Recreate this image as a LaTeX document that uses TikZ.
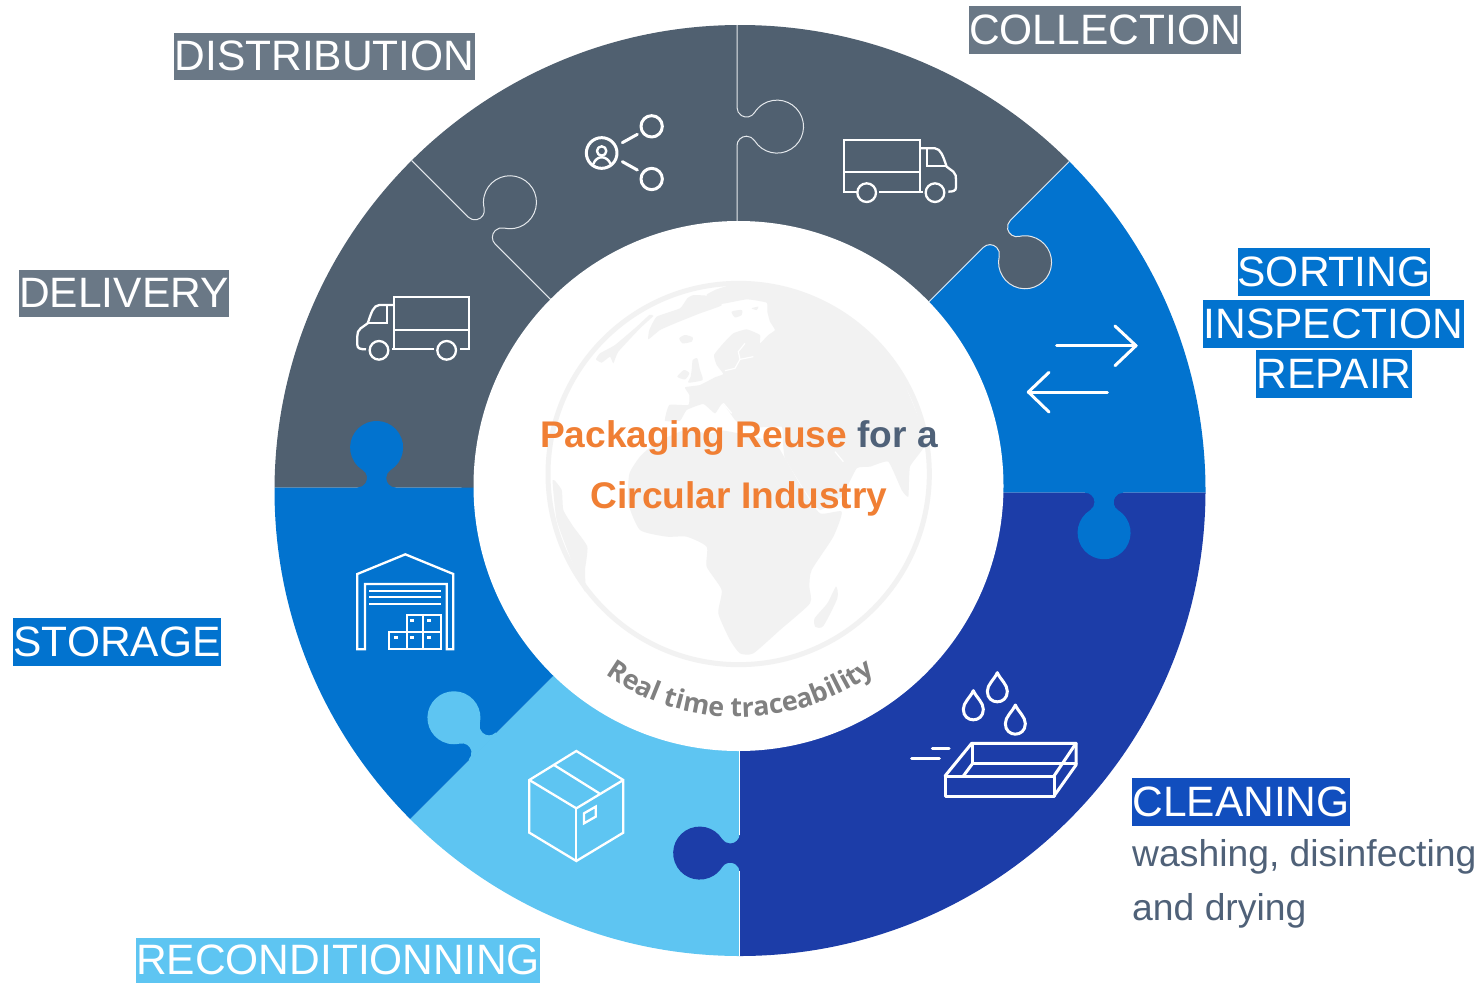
\documentclass[tikz,border=0pt]{standalone}
\usepackage{fontspec}
\setmainfont{Liberation Sans}
\newfontfamily\arcfont{Open Sans}
\usetikzlibrary{decorations.text}
\definecolor{greyseg}{HTML}{506070}
\definecolor{greylab}{HTML}{6A7886}
\definecolor{bluemid}{HTML}{0273CF}
\definecolor{bluedark}{HTML}{1C3DA8}
\definecolor{bluelab}{HTML}{114EBE}
\definecolor{bluelight}{HTML}{5EC5F2}
\definecolor{orangetxt}{HTML}{F07F34}
\definecolor{slatetxt}{HTML}{4F6178}
\definecolor{landgrey}{HTML}{F2F2F2}
\definecolor{tracegrey}{HTML}{808080}
\definecolor{seamw}{HTML}{E4E8EC}
\newcommand{\tabfill}[4]{\fill[#4,shift={(#1,#2)},x=1pt,y=1pt,rotate=#3] (19,0) arc (-90:-238:9.5) arc (-58:238:26.5) arc (58:-90:9.5) -- (-19,-1.5) -- (19,-1.5) -- cycle;}
\newcommand{\tabseam}[5]{\draw[seamline,shift={(#1,#2)},x=1pt,y=1pt,rotate=#3] (#4,0) -- (19,0) arc (-90:-238:9.5) arc (-58:238:26.5) arc (58:-90:9.5) -- (-#5,0);}
\tikzset{
  seamline/.style={draw=seamw,line width=1pt},
  zf/.style 2 args={shift={(#1,#2)},x=0.33333pt,y=-0.33333pt},
  icon/.style={draw=white,line width=2.3pt,line join=miter},
  iconr/.style={draw=white,line width=3pt,line cap=round,line join=round},
  lab/.style={font=\fontsize{42.5}{42.5}\selectfont,text=white,inner sep=0pt,text height=30.4pt,text depth=2pt,align=center},
  body/.style={font=\fontsize{37.3}{37.3}\selectfont,text=slatetxt,inner sep=0pt,anchor=base west},
  ctr/.style={font=\fontsize{37.1}{37.1}\selectfont\bfseries,inner sep=0pt,anchor=base},
  land/.style={fill=landgrey,draw=none},
}
\begin{document}
\begin{tikzpicture}[x=1pt,y=-1pt]
\useasboundingbox (0,0) rectangle (1481,983);
\fill[white] (0,0) rectangle (1481,983);
% ring
\begin{scope}
\clip (740,490.5) circle[radius=465.5];
\fill[greyseg] (739,488) -- (200,487.5) -- (200,-100) -- (1331,-100) -- (929.3,300.7) -- cycle;
\fill[bluemid] (739,488) -- (929.3,300.7) -- (1331,-100) -- (1500,-100) -- (1500,492.7) -- (1000,492.7) -- cycle;
\fill[bluedark] (739,488) -- (1000,492.7) -- (1500,492.7) -- (1500,1100) -- (739.5,1100) -- (739.5,740) -- cycle;
\fill[bluelight] (739,488) -- (739.5,740) -- (739.5,1100) -- (129,1100) -- (554,675) -- cycle;
\fill[bluemid] (739,488) -- (554,675) -- (129,1100) -- (100,1100) -- (100,487.5) -- (470,487.5) -- cycle;
\tabfill{376.7}{487.5}{0}{bluemid}
\tabfill{1104}{492.7}{180}{bluemid}
\tabfill{739.7}{853}{90}{bluedark}
\tabfill{482.3}{746}{45}{bluelight}
\tabfill{996.7}{234}{-135}{greyseg}
\tabseam{481.7}{230.6}{-45}{110}{115}
\tabseam{737}{126.7}{-90}{110}{115}
\tabseam{996.7}{234}{-135}{110}{115}
\draw[white,line width=1pt] (739.3,745) -- (739.3,835);
\draw[white,line width=1pt] (739.3,871) -- (739.3,960);
\end{scope}
\fill[white] (738.5,486) circle[radius=265];
% globe
\begin{scope}[zf={560}{280}]
\draw[landgrey,line width=5pt] (536,582) circle[radius=572];
% Eurasia with polar cap
\fill[land] plot[smooth cycle,tension=0.25] coordinates {(315,422) (328,375) (385,375) (388,345) (375,322) (420,315) (465,292) (490,282) (470,255) (462,225) (490,190) (520,160) (560,148) (600,165) (600,190) (625,165) (645,150) (630,125) (622,95) (620,68) (560,58) (480,72) (440,45) (470,28) (520,14) (620,18) (715,40) (818,82) (935,175) (1025,295) (1082,430) (1092,500) (1050,560) (1045,650) (1025,630) (985,545) (930,560) (890,565) (845,650) (780,690) (740,640) (675,535) (668,470) (665,440) (600,442) (550,438) (525,420) (488,370) (465,400) (430,372) (380,390) (360,422)};
% Africa
\fill[land] plot[smooth cycle,tension=0.35] coordinates {(208,582) (240,530) (285,490) (325,470) (390,445) (440,462) (490,452) (580,470) (645,490) (675,535) (730,630) (780,700) (845,695) (820,770) (755,870) (748,920) (750,970) (660,1050) (580,1120) (540,1120) (510,1080) (475,1000) (485,930) (440,860) (440,800) (380,770) (320,770) (240,750) (205,670)};
% Madagascar
\fill[land] plot[smooth cycle,tension=0.4] coordinates {(828,920) (832,955) (790,1038) (766,1040) (764,1015) (802,970)};
% Americas limb
\fill[land] plot[smooth cycle,tension=0.3] coordinates {(-22,600) (5,630) (10,690) (40,740) (82,800) (75,870) (75,935) (30,830) (-10,720)};
% Greenland
\fill[land] plot[smooth cycle,tension=0.25] coordinates {(265,178) (300,150) (350,128) (420,100) (485,76) (470,50) (402,45) (382,55) (360,85) (290,110) (268,150)};
\fill[land] plot[smooth cycle,tension=0.25] coordinates {(108,238) (120,220) (165,195) (230,140) (268,105) (280,108) (240,145) (175,215) (160,250) (150,230) (125,248)};
% Iceland and islands
\fill[land] plot[smooth cycle,tension=0.4] coordinates {(358,175) (375,165) (398,172) (395,185) (368,190)};
\fill[land] plot[smooth cycle,tension=0.4] coordinates {(352,290) (372,270) (388,280) (375,298)};
\fill[land] plot[smooth cycle,tension=0.3] coordinates {(395,270) (398,240) (412,235) (420,270) (428,300) (385,308) (392,290)};
\fill[land] plot[smooth cycle,tension=0.4] coordinates {(515,95) (545,90) (545,105) (525,112)};
\fill[land] plot[smooth cycle,tension=0.4] coordinates {(575,85) (595,80) (590,90)};
% seas
\draw[white,line width=1.2pt] (555,190) -- (535,215) -- (540,238) -- (580,230);
\draw[white,line width=1.2pt] (540,238) -- (525,265) -- (495,272);
\draw[white,line width=1.2pt] (825,515) -- (850,545);
\draw[white,line width=1.2pt] (490,370) -- (515,400);
\end{scope}
% centre text
\node[ctr] (title1) at (739,447) {\textcolor{orangetxt}{Packaging Reuse} \textcolor{slatetxt}{for a}};
\node[ctr,text=orangetxt] (title2) at (739,508) {Circular Industry};
\begin{scope}[shift={(738.5,486)},x=1pt,y=1pt]
\path[decorate,decoration={text along path,text align=center,text={|\arcfont\bfseries\fontsize{26.8}{26.8}\selectfont\color{tracegrey}|Real time traceability}}] (235:231) arc (235:306:231);
\end{scope}
% labels
\node[lab,fill=greylab,minimum width=301pt,minimum height=47pt] (distribution) at (324.5,56) {DISTRIBUTION};
\node[lab,fill=greylab,minimum width=272pt,minimum height=48pt] (collection) at (1105,30) {COLLECTION};
\node[lab,fill=greylab,minimum width=210pt,minimum height=47pt] (delivery) at (124,293.5) {DELIVERY};
\node[lab,fill=bluemid,minimum width=208pt,minimum height=48pt] (storage) at (117,642) {STORAGE};
\node[lab,fill=bluelight,minimum width=404pt,minimum height=45pt] (recond) at (338,960.5) {RECONDITIONNING};
\node[lab,fill=bluemid,minimum width=192pt,minimum height=48pt] (sorting) at (1334,272) {SORTING};
\node[lab,fill=bluemid,minimum width=261pt,minimum height=48pt] (inspection) at (1333.5,324) {INSPECTION};
\node[lab,fill=bluemid,minimum width=156pt,minimum height=48pt] (repair) at (1334,374) {REPAIR};
\node[lab,fill=bluelab,minimum width=218pt,minimum height=48pt] (cleaning) at (1241,802) {CLEANING};
\node[body] (wash) at (1132,866) {washing, disinfecting};
\node[body] (dry) at (1132,920) {and drying};
% distribution icon
\begin{scope}[zf={400}{80}]
\draw[iconr] (605,219) circle[radius=46];
\draw[iconr,line width=2.4pt] (605,213) circle[radius=14];
\draw[iconr,line width=2.4pt] (580,252) .. controls (590,225) and (620,225) .. (632,252);
\draw[iconr] (755,139) circle[radius=32];
\draw[iconr] (755,297) circle[radius=32];
\draw[iconr] (667,188) -- (712,163);
\draw[iconr] (667,245) -- (712,270);
\end{scope}
% collection truck
\begin{scope}[zf={720}{80}]
\draw[icon] (410,335) -- (372,335) -- (372,180) -- (600,180) -- (600,335);
\draw[icon] (478,335) -- (610,335);
\draw[icon] (372,275) -- (600,275);
\draw[icon] (440,338) circle[radius=28];
\draw[icon] (645,338) circle[radius=28];
\draw[icon] (600,205) -- (645,205) .. controls (662,207) and (668,225) .. (680,260) -- (700,275) .. controls (708,282) and (708,290) .. (708,300) -- (708,322) .. controls (708,332) and (700,335) .. (685,335);
\draw[icon] (622,205) -- (622,258) -- (680,258);
\end{scope}
% delivery truck
\begin{scope}[zf={340}{280}]
\draw[icon] (360,208) -- (388,208) -- (388,52) -- (162,52) -- (162,208);
\draw[icon] (283,208) -- (156,208);
\draw[icon] (388,150) -- (162,150);
\draw[icon] (117,211) circle[radius=28];
\draw[icon] (320,211) circle[radius=28];
\draw[icon] (162,75) -- (118,75) .. controls (100,77) and (95,95) .. (83,130) -- (62,145) .. controls (54,152) and (52,158) .. (52,168) -- (52,195) .. controls (52,205) and (60,208) .. (78,208);
\draw[icon] (140,75) -- (140,128) -- (83,128);
\end{scope}
% arrows
\begin{scope}[zf={1000}{310}]
\draw[iconr] (170,107) -- (408,107);
\draw[iconr] (345,48) -- (408,107) -- (345,167);
\draw[iconr] (322,246) -- (85,246);
\draw[iconr] (147,187) -- (85,246) -- (147,306);
\end{scope}
% cleaning icon
\begin{scope}[zf={900}{650}]
\foreach \dx/\dy in {292/68,220/122,346/165}{
  \draw[iconr] (\dx,\dy) .. controls (\dx+10,\dy+22) and (\dx+30,\dy+35) .. (\dx+30,\dy+56) .. controls (\dx+30,\dy+98) and (\dx-30,\dy+98) .. (\dx-30,\dy+56) .. controls (\dx-30,\dy+35) and (\dx-10,\dy+22) .. (\dx,\dy) -- cycle;
}
\draw[iconr] (135,378) rectangle (462,438);
\draw[iconr] (135,378) -- (215,280) -- (528,280) -- (462,378);
\draw[iconr] (528,280) -- (528,345) -- (462,438);
\draw[iconr] (218,280) -- (218,340) -- (528,340);
\draw[iconr] (218,340) -- (190,378);
\draw[iconr] (35,326) -- (118,326);
\draw[iconr] (97,296) -- (147,296);
\end{scope}
% warehouse and box
\begin{scope}[zf={330}{530}]
\draw[icon] (105,358) -- (82,358) -- (82,132) -- (226,73) -- (370,132) -- (370,358) -- (350,358) -- (350,162) -- (105,162) -- cycle;
\draw[icon] (118,183) -- (332,183);
\draw[icon] (118,202) -- (332,202);
\draw[icon] (118,222) -- (332,222);
\draw[icon] (178,307) rectangle (230,357);
\draw[icon] (230,307) rectangle (280,357);
\draw[icon] (280,307) rectangle (332,357);
\draw[icon] (230,256) rectangle (280,307);
\draw[icon] (280,256) rectangle (332,307);
\foreach \bx/\by in {192/318,240/318,292/318,240/267,292/267}{\fill[white] (\bx,\by) rectangle (\bx+12,\by+8);}
\draw[icon] (739,663) -- (880,750) -- (880,908) -- (739,993) -- (598,908) -- (598,750) -- cycle;
\draw[icon] (598,750) -- (739,835) -- (880,750);
\draw[icon] (739,835) -- (739,993);
\draw[icon] (672,705) -- (808,790);
\draw[icon] (762,850) -- (797,830) -- (797,860) -- (762,880) -- cycle;
\end{scope}
\end{tikzpicture}
\end{document}
